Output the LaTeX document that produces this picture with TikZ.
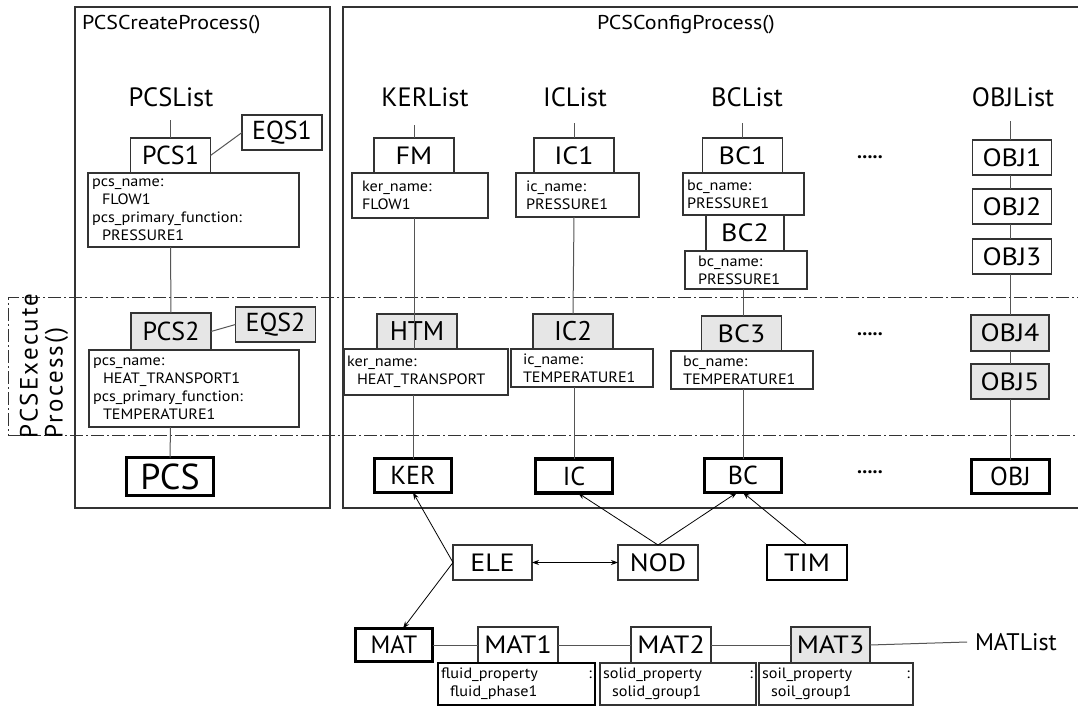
\documentclass[tikz,border=0pt]{standalone}
\usepackage{fontspec}
\setmainfont{PT Sans}
\newfontfamily\spacedfont[LetterSpace=9]{PT Sans}
\newfontfamily\titlefont[FakeStretch=1.1]{PT Sans}
\newfontfamily\infofont[FakeStretch=1.08]{PT Sans}
\newfontfamily\boxfont[FakeStretch=1.12]{PT Sans}
\usetikzlibrary{arrows.meta}
\definecolor{boxgray}{HTML}{E6E6E6}
\definecolor{linegray}{HTML}{555555}
\definecolor{edgegray}{HTML}{333333}
\begin{document}
\begin{tikzpicture}[x=1pt,y=-1pt,
  every node/.style={inner sep=0pt, outer sep=0pt},
  frame/.style={draw=edgegray, line width=1.1pt},
  title/.style={font=\titlefont\fontsize{20}{24}\selectfont, anchor=west},
  listlbl/.style={font=\fontsize{26.5}{30}\selectfont},
  obox/.style={draw=edgegray, line width=1.1pt, rectangle, minimum width=80pt, minimum height=35pt, font=\boxfont\fontsize{25}{30}\selectfont},
  pbox/.style={obox, font=\fontsize{26}{30}\selectfont},
  gbox/.style={obox, fill=boxgray},
  tbox/.style={draw=black, line width=3.2pt, rectangle, minimum width=77pt, minimum height=34pt, font=\fontsize{26}{30}\selectfont},
  info/.style={draw=edgegray, line width=1.1pt, fill=white, rectangle, align=left, inner xsep=4pt, font=\infofont\fontsize{15}{18}\selectfont},
  conn/.style={draw=linegray, line width=1pt},
  arr/.style={draw=black, line width=0.8pt, -{Stealth[length=7pt,width=5pt]}},
  dashdot/.style={draw=edgegray, line width=1pt, dash pattern=on 13pt off 3pt on 2pt off 3pt},
  dots/.style={font=\fontsize{20}{24}\selectfont\bfseries}
]
\useasboundingbox (0,0) rectangle (1078,708);
\clip (0,0) rectangle (1078,708);
\fill[white] (0,0) rectangle (1078,708);

% frames
\node[frame, minimum width=255pt, minimum height=501pt, anchor=north west] (create) at (75,7) {};
\node[frame, minimum width=760pt, minimum height=501pt, anchor=north west] (config) at (343,7) {};
\node[title] (createT) at (82,25) {PCSCreateProcess()};
\node[title] (configT) at (597,25) {PCSConfigProcess()};

% execute band
\draw[dashdot] (1090,298) -- (8,298) -- (8,435) -- (1090,435);
\node[rotate=90, align=left, font=\fontsize{25}{25}\selectfont] (execT) at (44,366) {{\spacedfont PCSExecute}\\{\spacedfont Process()}};

% ---- PCS column
\node[listlbl] (pcslist) at (171,97) {PCSList};
\node[pbox] (pcs1) at (170.5,155.5) {PCS1};
\node[pbox] (eqs1) at (282,132.5) {EQS1};
\node[info, minimum width=211pt, text width=203pt, minimum height=74pt, anchor=north west] (pcsinfo1) at (88,173) {pcs\_name:\\\hspace*{10pt}FLOW1\\pcs\_primary\_function:\\\hspace*{10pt}PRESSURE1};
\node[pbox, fill=boxgray, minimum height=37pt] (pcs2) at (171,331.5) {PCS2};
\node[pbox, fill=boxgray] (eqs2) at (275.5,324.5) {EQS2};
\node[info, minimum width=210pt, text width=202pt, minimum height=77pt, anchor=north west] (pcsinfo2) at (89,350) {pcs\_name:\\\hspace*{10pt}HEAT\_TRANSPORT1\\pcs\_primary\_function:\\\hspace*{10pt}TEMPERATURE1};
\node[tbox, minimum width=87pt, minimum height=38pt, font=\fontsize{36}{40}\selectfont] (pcs) at (170,476.5) {PCS};

\draw[conn] (pcs1.north) -- (pcs1.north |- 0,120);
\draw[conn] (pcs1.east) -- (eqs1.west);
\draw[conn] (pcsinfo1.south -| pcs1.south) -- (pcs2.north);
\draw[conn] (pcs2.east) -- (eqs2.west);
\draw[conn] (pcsinfo2.south -| pcs1.south) -- (pcs.north);

% ---- KER column
\node[listlbl] (kerlist) at (425,97) {KERList};
\node[obox] (fm) at (414,155.5) {FM};
\node[info, minimum width=136pt, text width=128pt, minimum height=45pt, anchor=north west] (kerinfo1) at (352,173) {\hspace*{6pt}ker\_name:\\\hspace*{6pt}FLOW1};
\node[pbox, fill=boxgray, font=\fontsize{27}{30}\selectfont] (htm) at (417,331.5) {HTM};
\node[info, minimum width=164pt, text width=158pt, minimum height=46pt, anchor=north west, inner xsep=1pt] (kerinfo2) at (344,349) {ker\_name:\\\hspace*{10pt}HEAT\_TRANSPORT};
\node[tbox] (ker) at (413,475.5) {KER};
\draw[conn] (fm.north) -- (fm.north |- 0,125);
\draw[conn] (kerinfo1.south -| fm.south) -- (kerinfo2.north -| fm.south);
\draw[conn] (kerinfo2.south -| ker.north) -- (ker.north);

% ---- IC column
\node[listlbl] (iclist) at (575,97) {ICList};
\node[obox] (ic1) at (574,155.5) {IC1};
\draw[edgegray, line width=2.4pt] (ic1.north east) -- (ic1.south east);
\node[info, minimum width=123pt, text width=115pt, minimum height=44pt, anchor=north west] (icinfo1) at (516,173) {\hspace*{6pt}ic\_name:\\\hspace*{6pt}PRESSURE1};
\node[pbox, fill=boxgray, font=\fontsize{27}{30}\selectfont] (ic2) at (573,331.5) {IC2};
\node[info, minimum width=142pt, text width=134pt, minimum height=38pt, anchor=north west] (icinfo2) at (511,349) {\hspace*{8pt}ic\_name:\\\hspace*{8pt}TEMPERATURE1};
\node[tbox] (ic) at (574,476) {IC};
\draw[conn] (ic1.north) -- (ic1.north |- 0,123);
\draw[conn] (icinfo1.south -| ic1.south) -- (ic2.north);
\draw[conn] (icinfo2.south -| ic.north) -- (ic.north);

% ---- BC column
\node[listlbl] (bclist) at (747,97) {BCList};
\node[obox] (bc1) at (742.5,155.5) {BC1};
\node[info, minimum width=121pt, text width=113pt, minimum height=42pt, anchor=north west] (bcinfo1) at (683,173) {bc\_name:\\PRESSURE1};
\node[obox, minimum width=78pt, minimum height=36pt] (bc2) at (745,233) {BC2};
\node[info, minimum width=122pt, text width=112pt, minimum height=38pt, anchor=north west] (bcinfo2) at (685,251) {\hspace*{8pt}bc\_name:\\\hspace*{8pt}PRESSURE1};
\node[gbox] (bc3) at (741.5,333.5) {BC3};
\node[info, minimum width=142pt, text width=134pt, minimum height=38pt, anchor=north west] (bcinfo3) at (671,351) {\hspace*{8pt}bc\_name:\\\hspace*{8pt}TEMPERATURE1};
\node[tbox] (bc) at (743,475.5) {BC};
\draw[conn] (bc1.north) -- (bc1.north |- 0,123);
\draw[conn] (bcinfo2.south -| bc.north) -- (bc3.north -| bc.north);
\draw[conn] (bcinfo3.south -| bc.north) -- (bc.north);

% ---- dots
\node[dots] (dots1) at (870,157) {.....};
\node[dots] (dots2) at (870,334) {.....};
\node[dots] (dots3) at (870,472) {.....};

% ---- OBJ column
\node[listlbl] (objlist) at (1013,97) {OBJList};
\node[obox, minimum width=79pt] (obj1) at (1012,157.5) {OBJ1};
\node[obox, minimum width=79pt] (obj2) at (1012,206.5) {OBJ2};
\node[obox, minimum width=79pt] (obj3) at (1012,256.5) {OBJ3};
\node[gbox, minimum width=78pt, minimum height=36pt] (obj4) at (1010,333) {OBJ4};
\node[gbox, minimum width=78pt] (obj5) at (1010,381.5) {OBJ5};
\node[tbox, minimum width=78pt] (obj) at (1010.5,476.5) {OBJ};
\draw[conn] (obj1.north -| obj.north) -- (obj.north |- 0,121);
\draw[conn] (obj1.south -| obj.north) -- (obj2.north -| obj.north);
\draw[conn] (obj2.south -| obj.north) -- (obj3.north -| obj.north);
\draw[conn] (obj3.south -| obj.north) -- (obj4.north -| obj.north);
\draw[conn] (obj4.south -| obj.north) -- (obj5.north -| obj.north);
\draw[conn] (obj5.south -| obj.north) -- (obj.north);

% ---- MAT row
\node[tbox, minimum width=77pt, minimum height=33pt, font=\fontsize{25}{30}\selectfont] (mat) at (394,645) {MAT};
\node[obox, minimum width=80pt, minimum height=36pt] (mat1) at (518,645) {MAT1};
\node[obox, minimum width=80pt, minimum height=36pt] (mat2) at (671,645) {MAT2};
\node[gbox, minimum width=79pt, minimum height=36pt] (mat3) at (830.5,645) {MAT3};
\node[info, draw=black, minimum width=157pt, text width=151pt, minimum height=42pt, anchor=north west, inner xsep=3pt] (matinfo1) at (438,663) {fluid\_property\hfill:\hspace*{7pt}\\\hspace*{9pt}fluid\_phase1};
\node[info, minimum width=156pt, text width=150pt, minimum height=42pt, anchor=north west, inner xsep=3pt] (matinfo2) at (600,663) {solid\_property\hfill:\hspace*{7pt}\\\hspace*{9pt}solid\_group1};
\node[info, minimum width=154pt, text width=148pt, minimum height=42pt, anchor=north west, inner xsep=3pt] (matinfo3) at (759,663) {soil\_property\hfill:\hspace*{12pt}\\\hspace*{9pt}soil\_group1};
\node[listlbl, font=\fontsize{24}{28}\selectfont, anchor=west] (matlist) at (975,642) {MATList};
\draw[conn] (mat.east) -- (mat1.west);
\draw[conn] (mat1.east) -- (mat2.west);
\draw[conn] (mat2.east) -- (mat3.west);
\draw[conn] (mat3.east) -- ([xshift=-8pt]matlist.west);

% ---- bottom row
\node[obox, minimum width=79pt] (ele) at (492.5,562.5) {ELE};
\node[obox] (nod) at (658,562.5) {NOD};
\node[obox, draw=black, line width=1.5pt] (tim) at (807,562.5) {TIM};
\draw[arr, {Stealth[length=7pt,width=5pt]}-{Stealth[length=7pt,width=5pt]}] (ele.east) -- (nod.west);
\draw[arr] (ele.west) -- (ker.south);
\draw[arr] (ele.west) -- ([xshift=9pt]mat.north);
\draw[arr] (nod.north) -- ([xshift=4pt]ic.south);
\draw[arr] (nod.north) -- ([xshift=-6pt]bc.south);
\draw[arr] (tim.north) -- ([xshift=0pt]bc.south);
\end{tikzpicture}
\end{document}
